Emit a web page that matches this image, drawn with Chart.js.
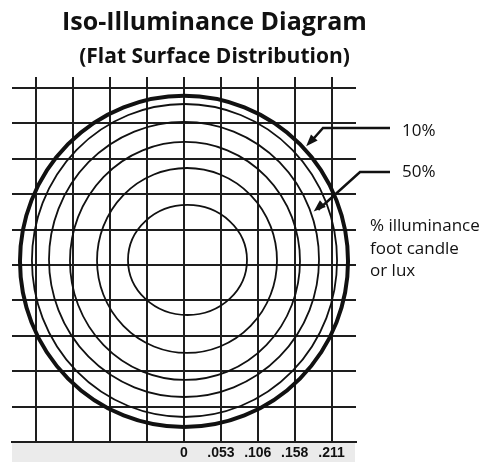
<!DOCTYPE html>
<html>
<head>
<meta charset="utf-8">
<script src="https://cdn.jsdelivr.net/npm/chart.js@4.4.0/dist/chart.umd.min.js"></script>
<style>
  html, body { margin: 0; padding: 0; background: #fff; }
  #wrap { position: relative; width: 489px; height: 462px; overflow: hidden; }
  #wrap canvas { position: absolute; left: 0; top: 0; }
  .txt { position: absolute; font-family: "Open Sans", sans-serif; color: #111; white-space: nowrap; }
  .title { left: 0; width: 429px; text-align: center; font-weight: bold; line-height: 1; }
  .note { font-size: 17px; line-height: 1; }
</style>
</head>
<body>
<div id="wrap">
  <canvas id="iso" width="489" height="462"></canvas>
  <div class="txt title" style="top:8px;font-size:25px;">Iso-Illuminance Diagram</div>
  <div class="txt title" style="top:45px;font-size:21px;">(Flat Surface Distribution)</div>
  <div class="txt note" style="left:402px;top:121px;">10%</div>
  <div class="txt note" style="left:402px;top:162px;">50%</div>
  <div class="txt note" style="left:370px;top:214px;line-height:22.5px;">% illuminance<br>foot candle<br>or lux</div>
</div>
<script>
// axis ticks (grid every .05275)
var xTickValues = [-0.211, -0.15825, -0.1055, -0.05275, 0, 0.05275, 0.1055, 0.15825, 0.211];
var xTickLabels = ['', '', '', '', '0', '.053', '.106', '.158', '.211'];
var yTickValues = [-0.26375, -0.211, -0.15825, -0.1055, -0.05275, 0, 0.05275, 0.1055, 0.15825, 0.211, 0.26375];

// iso-illuminance contours, inner to outer (centre and radii in axis units)
var contourCx = [0.0050, 0.0043, 0.0014, 0.0000, 0.0007, 0.0000];
var contourCy = [0.0075, 0.0067, 0.0060, 0.0082, 0.0067, 0.0054];
var contourRx = [0.0851, 0.1287, 0.1645, 0.1931, 0.2182, 0.2346];
var contourRy = [0.0820, 0.1378, 0.1773, 0.2049, 0.2332, 0.2469];

// callouts
var arrowLabels = ['10%', '50%'];
var arrowContour = [5, 3];
var arrowAngle = [43, 20];

var ink = '#111';

function arrowHead(ctx, x0, y0, x1, y1){
    var a = Math.atan2(y1 - y0, x1 - x0);
    var len = 12, half = 4.5;
    ctx.beginPath();
    ctx.moveTo(x1, y1);
    ctx.lineTo(x1 - len*Math.cos(a) + half*Math.sin(a), y1 - len*Math.sin(a) - half*Math.cos(a));
    ctx.lineTo(x1 - len*Math.cos(a) - half*Math.sin(a), y1 - len*Math.sin(a) + half*Math.cos(a));
    ctx.closePath();
    ctx.fill();
}

var isoPlugin = {
    id: 'iso',
    beforeDraw: function(chart){
        var ctx = chart.ctx, xs = chart.scales.x;
        ctx.save();
        ctx.fillStyle = '#ebebeb';
        ctx.fillRect(xs.left, xs.top + 1, xs.right - xs.left - 1, xs.bottom - xs.top);
        ctx.restore();
    },
    afterDraw: function(chart){
        var ctx = chart.ctx, xs = chart.scales.x, ys = chart.scales.y;
        ctx.save();
        ctx.strokeStyle = ink;
        ctx.fillStyle = ink;
        var geo = [];
        for (var i = 0; i < contourRx.length; i++){
            var px = xs.getPixelForValue(contourCx[i]);
            var py = ys.getPixelForValue(contourCy[i]);
            var rx = xs.getPixelForValue(contourCx[i] + contourRx[i]) - px;
            var ry = py - ys.getPixelForValue(contourCy[i] + contourRy[i]);
            geo.push([px, py, rx, ry]);
            ctx.lineWidth = (i == contourRx.length - 1) ? 4 : 1.8;
            ctx.beginPath();
            ctx.ellipse(px, py, rx, ry, 0, 0, Math.PI*2);
            ctx.stroke();
        }
        // callout arrows: tail runs right to the label, tip touches its contour
        var rows = [128, 172], elbows = [323, 360];
        ctx.lineWidth = 2.5;
        for (var k = 0; k < arrowLabels.length; k++){
            var g = geo[arrowContour[k]];
            var t = arrowAngle[k]*Math.PI/180;
            var tx = g[0] + (g[2] + 3)*Math.cos(t);
            var ty = g[1] - (g[3] + 3)*Math.sin(t);
            ctx.beginPath();
            ctx.moveTo(390, rows[k]);
            ctx.lineTo(elbows[k], rows[k]);
            ctx.lineTo(tx + 8*Math.cos(t)*0.6, ty - 8*Math.sin(t)*0.6);
            ctx.stroke();
            arrowHead(ctx, elbows[k], rows[k], tx, ty);
        }
        ctx.restore();
    }
};

var chart = new Chart(document.getElementById('iso'), {
    type: 'scatter',
    data: { datasets: [] },
    plugins: [isoPlugin],
    options: {
        responsive: false,
        animation: false,
        layout: { padding: { left: 12, right: 133, top: 77, bottom: 0 } },
        plugins: { legend: { display: false }, tooltip: { enabled: false }, title: { display: false } },
        scales: {
            x: {
                type: 'linear',
                min: -0.246, max: 0.246,
                afterBuildTicks: function(scale){
                    scale.ticks = xTickValues.map(function(v){ return { value: v }; });
                },
                afterFit: function(scale){ scale.height = 20; },
                grid: { color: '#1e1e1e', lineWidth: 2, drawTicks: false },
                border: { display: true, color: '#1e1e1e', width: 2 },
                ticks: {
                    autoSkip: false,
                    maxRotation: 0,
                    padding: 3,
                    color: '#111',
                    font: { family: 'Liberation Sans', size: 14, weight: 'bold' },
                    callback: function(v, i){ return xTickLabels[i]; }
                }
            },
            y: {
                type: 'linear',
                min: -0.26375, max: 0.2801,
                afterBuildTicks: function(scale){
                    scale.ticks = yTickValues.map(function(v){ return { value: v }; });
                },
                afterFit: function(scale){ scale.width = 0; },
                grid: { color: '#1e1e1e', lineWidth: 2, drawTicks: false },
                border: { display: false },
                ticks: { display: false }
            }
        }
    }
});
</script>
</body>
</html>
